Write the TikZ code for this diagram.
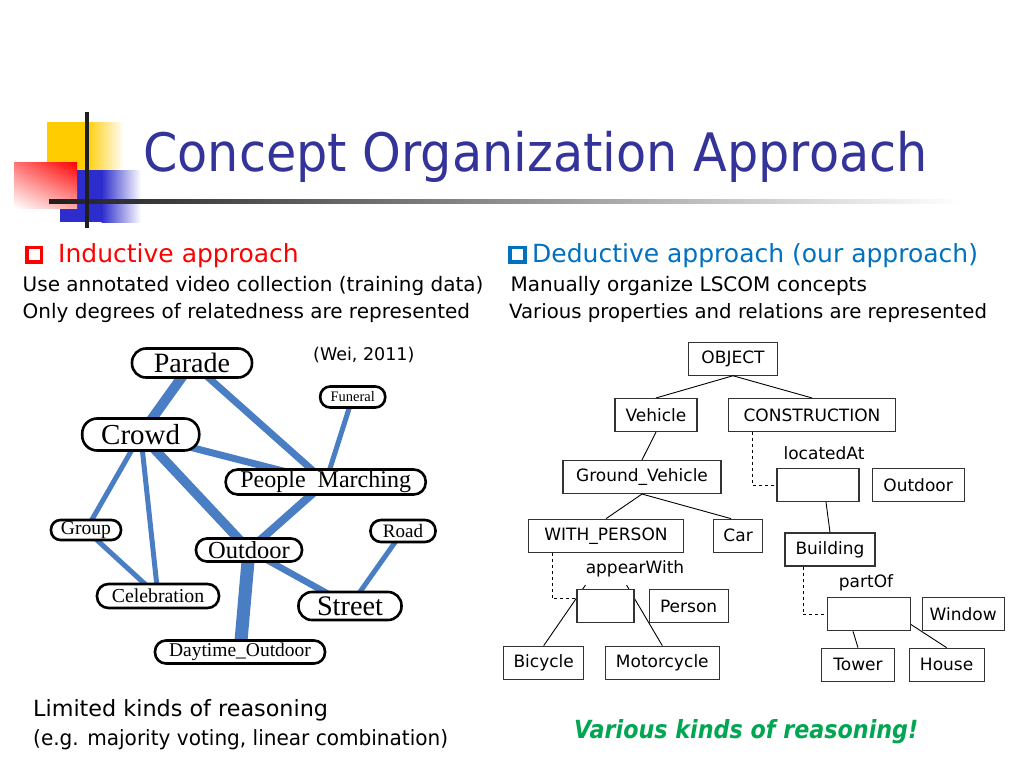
\documentclass[tikz,border=0pt]{standalone}
\usepackage{fontspec}
\setmainfont{DejaVu Sans}
\newfontfamily\titlefont{DejaVu Sans}[FakeStretch=0.93]
\newfontfamily\greenfont{DejaVu Sans}[FakeStretch=0.89]
\newfontfamily\remarkfont{DejaVu Sans}[FakeStretch=0.955]
\newfontfamily\conceptfont{Liberation Serif}
\usetikzlibrary{
    backgrounds,
    calc,
    positioning,
    shadings,
}
\definecolor{titleblue}{RGB}{51,51,153}
\definecolor{bulletred}{RGB}{255,0,0}
\definecolor{bulletblue}{RGB}{0,112,192}
\definecolor{edgeblue}{RGB}{74,126,196}
\definecolor{reasongreen}{RGB}{0,166,81}
\definecolor{logoyellow}{RGB}{255,204,0}
\definecolor{logoblue}{RGB}{45,45,205}
\tikzstyle{relation}=[edgeblue, line cap=butt]
\tikzset{
    concept/.style={draw, line width=2.6pt, fill=white, inner sep=0pt, rounded corners=#1},
    concept/.default=10pt,
    cfs/.style={font=\conceptfont\fontsize{#1}{#1}\selectfont},
    lscom/.style={draw=black!80, line width=1.1pt, fill=white, minimum height=33pt, inner sep=3pt, font=\fontsize{17}{20}\selectfont},
    rel/.style={inner sep=0pt, font=\fontsize{17}{20}\selectfont},
    link/.style={line width=0.9pt},
    bullet/.style={draw=#1, line width=3.8pt, minimum size=14.5pt, inner sep=0pt},
    body/.style={anchor=base west, inner sep=0pt, font=\fontsize{20}{24}\selectfont},
}

\begin{document}
\begin{tikzpicture}[x=1pt, y=-1pt]
    \useasboundingbox (0,0) rectangle (1024,768);
    % logo
    \fill[logoyellow] (47,122) rectangle (86,170);
    \shade[left color=logoyellow, right color=white] (85.5,122) rectangle (124,170);
    \fill[logoblue] (60,170) rectangle (102,222);
    \shade[left color=logoblue, right color=white] (101.5,170) rectangle (141,222);
    \shade[upper right=red, upper left=red!55, lower right=red!35, lower left=white] (14,162) rectangle (77,208);
    \shade[left color=black!88, middle color=black!40, right color=white] (49,199) rectangle (962,203);
    \fill[black!88] (85,112) rectangle (89,228);
    % title
    \node[anchor=base west, inner sep=0pt, text=titleblue, font=\titlefont\fontsize{53}{60}\selectfont] (title) at (143,171.7) {Concept Organization Approach};

    % inductive side
    \node[bullet=bulletred] (indbullet) at (34.2,254.7) {};
    \node[body, text=bulletred, font=\fontsize{25}{30}\selectfont] (indhead) at (58,262.7) {Inductive approach};
    \node[body] (indline1) at (22.5,291.7) {Use annotated video collection (training data)};
    \node[body] (indline2) at (22.5,318.3) {Only degrees of relatedness are represented};
    \node[body, font=\fontsize{17.5}{20}\selectfont] (wei) at (313,360.7) {(Wei, 2011)};

    \node[concept=14pt, cfs=28, minimum width=120pt, minimum height=29pt] (parade) at (192,363) {Parade};
    \node[concept=15pt, cfs=29, minimum width=117pt, minimum height=32pt] (crowd) at (140.7,434.5) {Crowd};
    \node[concept=10pt, cfs=14.5, minimum width=65pt, minimum height=21pt] (funeral) at (352.7,397) {Funeral};
    \node[concept=12pt, cfs=24, minimum width=200pt, minimum height=25pt] (marching) at (325.7,482) {People~~Marching};
    \node[concept=9.5pt, cfs=19.6, minimum width=70pt, minimum height=20pt] (group) at (86,530) {Group};
    \node[concept=11pt, cfs=24.5, minimum width=106pt, minimum height=23pt] (outdoor) at (249,550) {Outdoor};
    \node[concept=10.5pt, cfs=19, minimum width=65pt, minimum height=22pt] (road) at (403,531) {Road};
    \node[concept=11.5pt, cfs=19.8, minimum width=122pt, minimum height=24pt] (celebration) at (158,596) {Celebration};
    \node[concept=13.5pt, cfs=28.3, minimum width=103pt, minimum height=28pt] (street) at (350,606) {Street};
    \node[concept=11pt, cfs=19.5, minimum width=170pt, minimum height=23pt] (daytime) at (240,652) {Daytime\_Outdoor};

    % deductive side
    \node[bullet=bulletblue] (dedbullet) at (517.5,254.7) {};
    \node[body, text=bulletblue, font=\fontsize{25}{30}\selectfont] (dedhead) at (532,262.7) {Deductive approach (our approach)};
    \node[body] (dedline1) at (510.5,291.7) {Manually organize LSCOM concepts};
    \node[body, font=\fontsize{19.7}{24}\selectfont] (dedline2) at (509,318.3) {Various properties and relations are represented};

    \node[lscom, minimum width=89pt] (object) at (733,358.7) {OBJECT};
    \node[lscom, minimum width=82pt] (vehicle) at (656,415) {Vehicle};
    \node[lscom, minimum width=167pt] (construction) at (812,415) {CONSTRUCTION};
    \node[rel] (locatedat) at (824,453) {locatedAt};
    \node[lscom, minimum width=82pt] (locbox) at (818,485) {};
    \node[lscom, minimum width=92pt, right=12pt of locbox] (outdoorc) {Outdoor};
    \node[lscom, minimum width=158pt] (ground) at (642,477) {Ground\_Vehicle};
    \node[lscom, minimum width=155pt] (withperson) at (606,535.7) {WITH\_PERSON};
    \node[lscom, minimum width=49pt, right=29pt of withperson] (car) {Car};
    \node[lscom, minimum width=90pt] (building) at (830,549.5) {Building};
    \node[rel] (appearwith) at (635,569) {appearWith};
    \node[lscom, minimum width=57pt] (appearbox) at (605.5,606.3) {};
    \node[lscom, minimum width=79pt, right=14pt of appearbox] (person) {Person};
    \node[rel] (partof) at (866,583) {partOf};
    \node[lscom, minimum width=83pt] (partbox) at (869,614.3) {};
    \node[lscom, minimum width=82pt, right=10.5pt of partbox] (window) {Window};
    \node[lscom, minimum width=80pt] (bicycle) at (543.7,662.7) {Bicycle};
    \node[lscom, minimum width=114pt, right=20.5pt of bicycle] (motorcycle) {Motorcycle};
    \node[lscom, minimum width=73pt] (tower) at (858,664.7) {Tower};
    \node[lscom, minimum width=75pt, right=13.5pt of tower] (house) {House};

    \coordinate (appearleft) at (585.5,585);
    \coordinate (appearright) at (626.5,585);

    \draw[link] (object.south) -- (vehicle.north);
    \draw[link] (object.south) -- (construction.north);
    \draw[link] (vehicle.south) -- (ground.north);
    \draw[link] (ground.south) -- (withperson.north);
    \draw[link] (ground.south) -- ([xshift=-7pt]car.north);
    \draw[link] ([xshift=8pt]locbox.south) -- (building.north);
    \draw[link] ([xshift=-16pt]partbox.south) -- (tower.north);
    \draw[link, dashed] ([xshift=24pt]construction.south west) |- (locbox.west);
    \draw[link, dashed] ([xshift=24.5pt]withperson.south west) |- ([yshift=7.5pt]appearbox.west);
    \draw[link, dashed] ([xshift=18.5pt]building.south west) |- (partbox.west);

    % lines that run under the nodes
    \begin{scope}[on background layer]
        \fill[white] (0,0) rectangle (1024,768);
        \foreach \from/\to/\w in {parade/crowd/10, parade/marching/7, funeral/marching/5,
                crowd/marching/7, crowd/outdoor/9.5, marching/outdoor/8, crowd/group/5,
                crowd/celebration/5, group/celebration/5, outdoor/street/6.5,
                road/street/5, outdoor/daytime/13}
            \draw[relation, line width=\w pt] (\from.center) -- (\to.center);
        \draw[link] (bicycle.north) -- (appearleft);
        \draw[link] (motorcycle.north) -- (appearright);
        \draw[link] (partbox.north) -- (house.north);
    \end{scope}

    % bottom remarks
    \node[body, font=\fontsize{22.3}{26}\selectfont] (limited) at (33,716.7) {Limited kinds of reasoning};
    \node[body, font=\remarkfont\fontsize{21}{26}\selectfont] (example) at (33,745) {(e.g. majority voting, linear combination)};
    \node[body, text=reasongreen, font=\greenfont\bfseries\itshape\fontsize{25}{30}\selectfont] (various) at (574,738.3) {Various kinds of reasoning!};
\end{tikzpicture}
\end{document}
